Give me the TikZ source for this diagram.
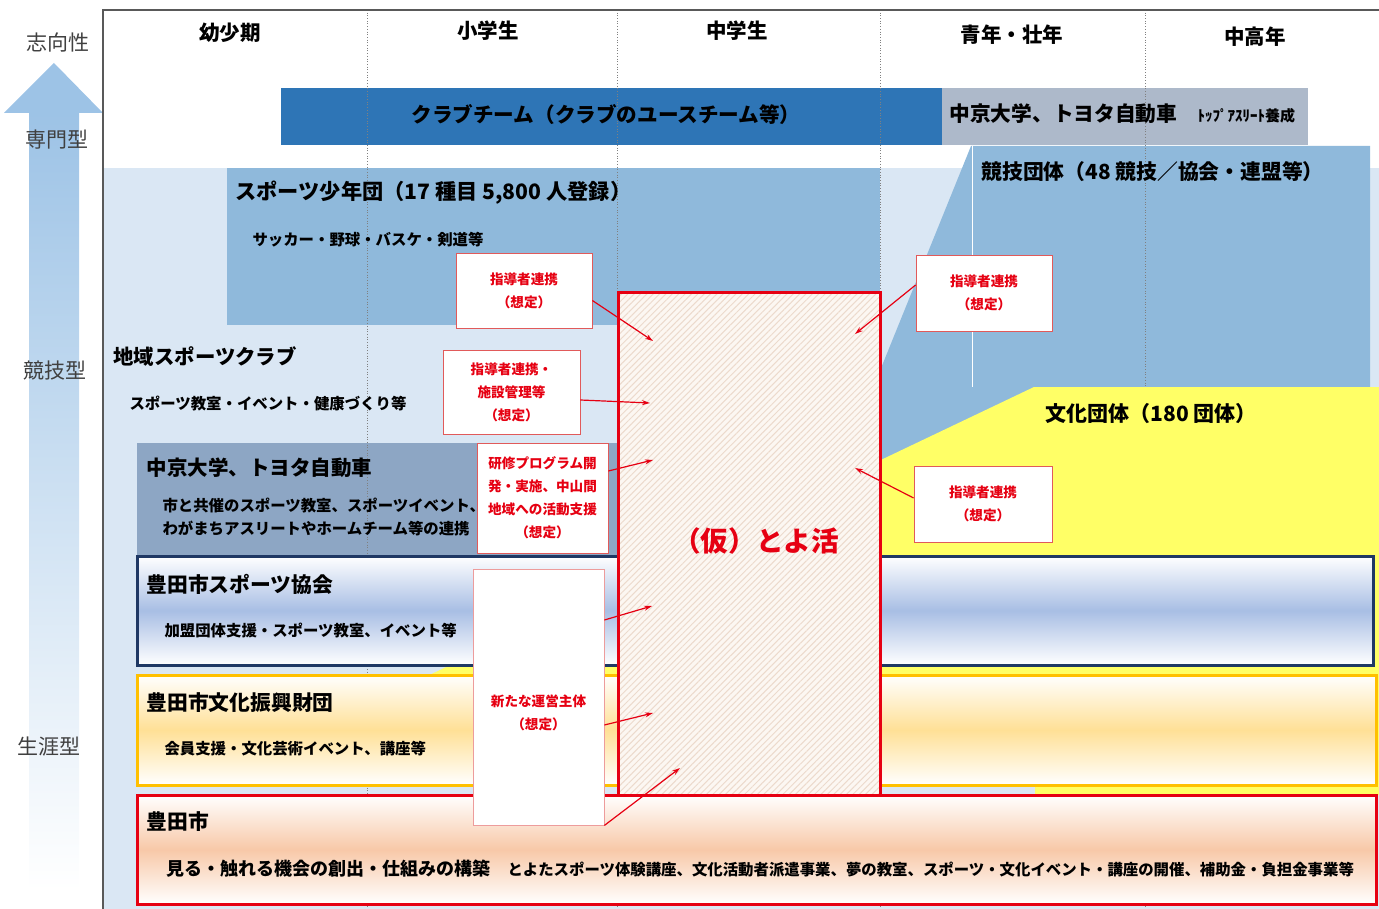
\documentclass[tikz,border=0pt]{standalone}
\usepackage{fontspec}
\setmainfont{Noto Sans CJK JP}
\usepackage{tikz}
\usetikzlibrary{arrows.meta, patterns.meta}

\definecolor{frameGray}{RGB}{89,89,89}
\definecolor{axisBlue}{RGB}{157,195,230}
\definecolor{axisText}{RGB}{64,64,64}
\definecolor{bgBlue}{RGB}{218,231,244}
\definecolor{bandBlue}{RGB}{143,185,219}
\definecolor{clubBlue}{RGB}{46,117,182}
\definecolor{topGray}{RGB}{173,185,202}
\definecolor{uniGray}{RGB}{141,166,196}
\definecolor{cultYellow}{RGB}{255,255,102}
\definecolor{assocNavy}{RGB}{31,56,100}
\definecolor{assocBlue}{RGB}{168,190,228}
\definecolor{foundGold}{RGB}{255,192,0}
\definecolor{foundCream}{RGB}{255,224,150}
\definecolor{cityRed}{RGB}{230,0,18}
\definecolor{cityPeach}{RGB}{248,200,168}
\definecolor{hatchBase}{RGB}{252,247,242}
\definecolor{hatchLine}{RGB}{236,218,204}
\definecolor{calloutEdge}{RGB}{225,90,90}

\newcommand{\fsz}[1]{\fontsize{#1}{#1}\selectfont}

\tikzset{
  colhead/.style={font=\bfseries\fsz{20.5}},
  axislabel/.style={font=\fsz{21}, text=axisText},
  boxtitle/.style={anchor=west, font=\bfseries\fsz{20.8}},
  boxsub/.style={anchor=west, font=\bfseries\fsz{15.4}},
  calloutbox/.style={draw=calloutEdge, fill=white, line width=0.8, inner sep=0},
  callouttext/.style={text=cityRed, font=\bfseries\fontsize{13.6}{23}\selectfont, align=center},
  callout/.style={calloutbox, callouttext},
  redarrow/.style={draw=cityRed, line width=1.2, -{Stealth[length=8pt, width=5pt]}}
}

\begin{document}
\begin{tikzpicture}[x=1pt, y=-1pt]
	\useasboundingbox (0,0) rectangle (1379,909);
	% axis on the left
	\fill[axisBlue] (4,113) -- (54,63) -- (103,113) -- cycle;
	\shade[top color=axisBlue, bottom color=white] (29,113) rectangle (79,890);
	\node[axislabel] (orient) at (58,43) {志向性};
	\node[axislabel] (pro) at (57,140) {専門型};
	\node[axislabel] (comp) at (55,371) {競技型};
	\node[axislabel] (life) at (49,747) {生涯型};

	% background bands
	\fill[bgBlue] (103,168) rectangle (1379,909);
	\fill[clubBlue] (281,88) rectangle (942,145);
	\fill[topGray] (942,88) rectangle (1308,145);
	\fill[bandBlue] (227,168) rectangle (880,325);
	\fill[bandBlue] (971,146) -- (1370,146) -- (1370,470) -- (860,470) -- (860,420) -- cycle;
	\draw[white, line width=0.8] (972,146) -- (972,387);
	\fill[uniGray] (137,443) rectangle (617,555);

	\foreach \x in {367,617,880,1145}
		\draw[gray, dotted, line width=0.7] (\x,10) -- (\x,909);

	\fill[cultYellow] (1034,387) -- (1379,387) -- (1379,795) -- (1035,795) -- (1035,700) -- (377,700) -- cycle;

	\draw[frameGray, line width=1.5] (103,909) |- (1379,10);

	% column heads
	\node[colhead] (infant) at (230,33) {幼少期};
	\node[colhead] (elem) at (488,31) {小学生};
	\node[colhead] (junior) at (737,31) {中学生};
	\node[colhead] (youth) at (1012,35) {青年・壮年};
	\node[colhead] (senior) at (1255,37) {中高年};

	% band texts
	\node[font=\bfseries\fsz{20.6}] (club) at (606,115) {クラブチーム（クラブのユースチーム等）};
	\node[boxtitle, font=\bfseries\fsz{20.7}] (uniTop) at (946,114) {中京大学、トヨタ自動車};
	\node[anchor=west, font=\bfseries\fsz{15}] (athlete) at (1194,116) {ﾄｯﾌﾟｱｽﾘｰﾄ養成};
	\node[boxtitle, font=\bfseries\fsz{21.2}] (youthClub) at (232,193) {スポーツ少年団（17 種目 5,800 人登録）};
	\node[boxsub] (youthSub) at (249,240) {サッカー・野球・バスケ・剣道等};
	\node[boxtitle] (assocs) at (978,172) {競技団体（48 競技／協会・連盟等）};
	\node[boxtitle, font=\bfseries\fsz{20.4}] (local) at (110,357) {地域スポーツクラブ};
	\node[boxsub] (localSub) at (126,404) {スポーツ教室・イベント・健康づくり等};
	\node[boxtitle, font=\bfseries\fsz{20.5}] (uni) at (143,468) {中京大学、トヨタ自動車};
	\node[boxsub] (uniSub1) at (159,506) {市と共催のスポーツ教室、スポーツイベント、};
	\node[boxsub] (uniSub2) at (159,529) {わがまちアスリートやホームチーム等の連携};
	\node[boxtitle, font=\bfseries\fsz{21}] (culture) at (1042,414) {文化団体（180 団体）};

	% lifelong boxes
	\shade[top color=white, bottom color=white, middle color=assocBlue] (137,556) rectangle (1373,665);
	\draw[assocNavy, line width=3] (137,556) rectangle (1373,665);
	\shade[top color=white, bottom color=white, middle color=foundCream] (137,675) rectangle (1376,785);
	\draw[foundGold, line width=3] (137,675) rectangle (1376,785);
	\shade[top color=white, bottom color=white, middle color=cityPeach] (137,795) rectangle (1376,904);
	\draw[cityRed, line width=3] (137,795) rectangle (1376,904);
	\node[boxtitle] (sportAssoc) at (143,584) {豊田市スポーツ協会};
	\node[boxsub] (sportSub) at (161,631) {加盟団体支援・スポーツ教室、イベント等};
	\node[boxtitle] (found) at (143,703) {豊田市文化振興財団};
	\node[boxsub] (foundSub) at (161,749) {会員支援・文化芸術イベント、講座等};
	\node[boxtitle] (city) at (143,822) {豊田市};
	\node[anchor=west, font=\bfseries] (citySub) at (163,869)
		{{\fsz{18}見る・触れる機会の創出・仕組みの構築}\hspace{17pt}{\fsz{15.4}とよたスポーツ体験講座、文化活動者派遣事業、夢の教室、スポーツ・文化イベント・講座の開催、補助金・負担金事業等}};

	% the hub
	\fill[hatchBase] (618,293) rectangle (880,795);
	\fill[pattern={Lines[angle=45, distance=4.5pt, line width=1pt]}, pattern color=hatchLine] (618,293) rectangle (880,795);
	\draw[cityRed, line width=3] (618,293) rectangle (880,795);
	\node[text=cityRed, font=\bfseries\fsz{27.6}] (toyokatsu) at (756,541) {（仮）とよ活};

	% callouts
	\node[callout, minimum width=136, minimum height=75] (lead1) at (524,290.5) {指導者連携\\（想定）};
	\node[callout, minimum width=136, minimum height=76] (lead2) at (984,293) {指導者連携\\（想定）};
	\node[callout, minimum width=137, minimum height=84] (lead3) at (511.5,392) {指導者連携・\\施設管理等\\（想定）};
	\node[callout, minimum width=131, minimum height=110] (train) at (542.5,498) {研修プログラム開\\発・実施、中山間\\地域への活動支援\\（想定）};
	\node[callout, minimum width=138, minimum height=76] (lead4) at (983,504) {指導者連携\\（想定）};
	\node[calloutbox, draw=calloutEdge!60, minimum width=131, minimum height=256] (operator) at (538.5,697) {};
	\node[callouttext] (operatorText) at (538.5,713) {新たな運営主体\\（想定）};

	\coordinate (in1) at (653,341);
	\coordinate (in2) at (855,334);
	\coordinate (in3) at (650,403);
	\coordinate (in4) at (653,460);
	\coordinate (in5) at (855,468);
	\coordinate (in6) at (652,606);
	\coordinate (in7) at (653,713);
	\coordinate (in8) at (680,768);

	\draw[redarrow] ([yshift=-10pt]lead1.east) -- (in1);
	\draw[redarrow] ([yshift=8pt]lead2.west) -- (in2);
	\draw[redarrow] ([yshift=-8pt]lead3.east) -- (in3);
	\draw[redarrow] ([yshift=27pt]train.east) -- (in4);
	\draw[redarrow] ([yshift=6pt]lead4.west) -- (in5);
	\draw[redarrow] ([yshift=77pt]operator.east) -- (in6);
	\draw[redarrow] ([yshift=-28pt]operator.east) -- (in7);
	\draw[redarrow] (operator.south east) -- (in8);
\end{tikzpicture}
\end{document}
